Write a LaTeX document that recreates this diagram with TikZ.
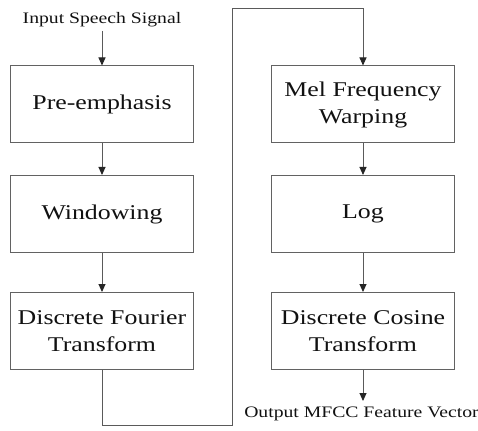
\documentclass[tikz,border=0pt]{standalone}
\usepackage{fontspec}
\setmainfont[FakeStretch=1.23]{Liberation Serif}
\usetikzlibrary{arrows.meta}
\definecolor{linegray}{HTML}{5A5A5A}
\definecolor{boxgray}{HTML}{626262}
\definecolor{inkblack}{HTML}{111111}
\tikzset{
  stage/.style={draw=boxgray, line width=1pt, minimum width=183pt, minimum height=77pt,
    inner sep=0pt, align=center, text=inkblack,
    font=\fontsize{21}{27}\selectfont},
  io/.style={text=inkblack, font=\fontsize{16}{19}\selectfont, inner sep=0pt, anchor=base},
  flow/.style={draw=linegray, line width=0.9pt,
    -{Triangle[length=8pt,width=7pt,color=black!85]}},
}
\begin{document}
\begin{tikzpicture}[x=1pt, y=-1pt]
\useasboundingbox (0,0) rectangle (478,430);

% left column
\node[io] (in) at (102,23.3) {Input Speech Signal};
\node[stage] (pre) at (102,104.5) {Pre-emphasis};
\node[stage] (win) at (102,214) {Windowing};
\node[stage] (dft) at (102,331) {Discrete Fourier\\Transform};

% right column
\node[stage] (mel) at (363,104.5) {Mel Frequency\\Warping};
\node[stage] (log) at (363,214) {Log};
\node[stage] (dct) at (363,331) {Discrete Cosine\\Transform};
\node[io] (out) at (361.5,417) {Output MFCC Feature Vector};

% bends of the link between the two columns
\coordinate (b1) at (102,425);
\coordinate (b2) at (232,425);
\coordinate (b3) at (232,8);
\coordinate (b4) at (363,8);
\coordinate (inTop) at (102,31);
\coordinate (outTip) at (363,401);

\draw[flow] (inTop) -- (pre.north);
\draw[flow] (pre) -- (win);
\draw[flow] (win) -- (dft);
\draw[flow] (dft.south) -- (b1) -- (b2) -- (b3) -- (b4) -- (mel.north);
\draw[flow] (mel) -- (log);
\draw[flow] (log) -- (dct);
\draw[flow] (dct.south) -- (outTip);
\end{tikzpicture}
\end{document}
